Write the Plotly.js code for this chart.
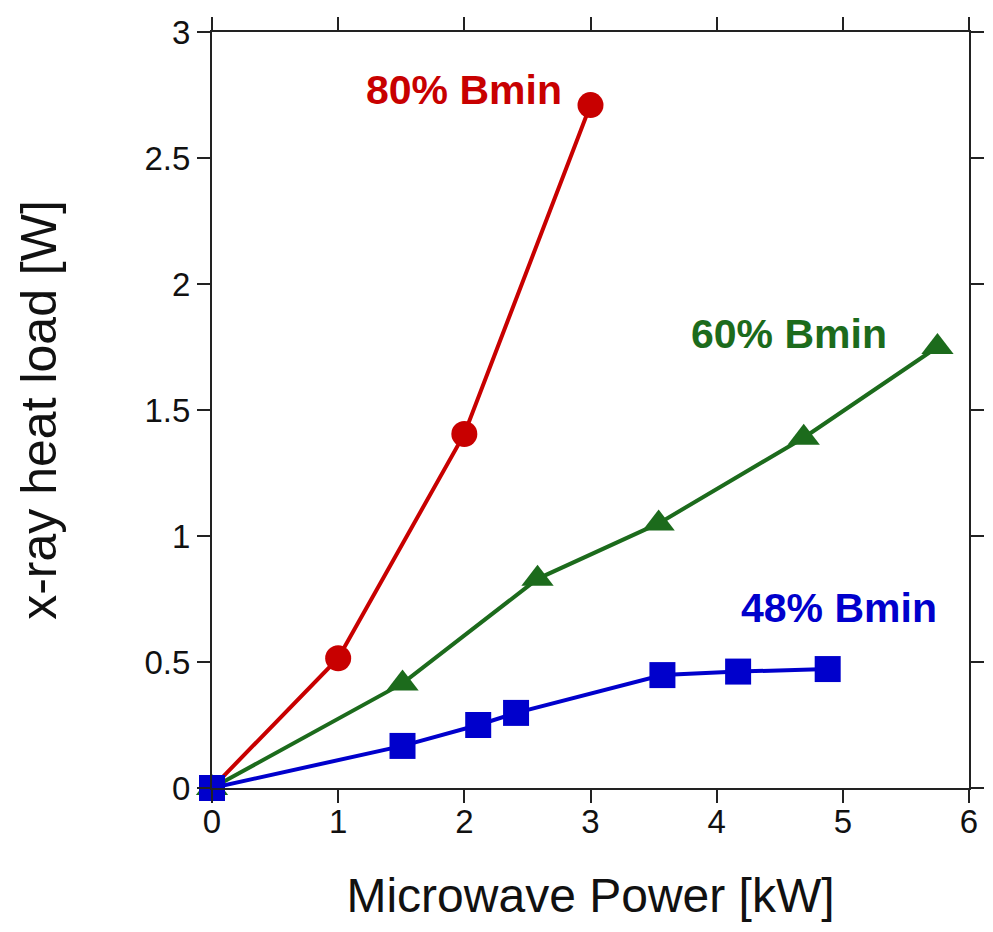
<!DOCTYPE html>
<html>
<head>
<meta charset="utf-8">
<script src="https://cdn.plot.ly/plotly-3.0.1.min.js"></script>
<style>html,body{margin:0;padding:0;background:#fff;}#chart{width:993px;height:932px;}</style>
</head>
<body>
<div id="chart"></div>
<script>
// Data
const redX = [0, 1, 2, 3];
const redY = [0, 0.515, 1.405, 2.71];
const greenX = [0, 1.51, 2.58, 3.54, 4.69, 5.75];
const greenY = [0, 0.415, 0.83, 1.05, 1.39, 1.75];
const blueX = [0, 1.51, 2.11, 2.41, 3.57, 4.17, 4.88];
const blueY = [0, 0.167, 0.25, 0.298, 0.448, 0.462, 0.472];
const labels = ["80% Bmin", "60% Bmin", "48% Bmin"];
const labelX = [2.0, 4.57, 4.97];
const labelY = [2.77, 1.80, 0.714];
const xTicks = [0, 1, 2, 3, 4, 5, 6];
const yTicks = [0, 0.5, 1, 1.5, 2, 2.5, 3];
const yTickText = ["0", "0.5", "1", "1.5", "2", "2.5", "3"];

const RED = "#c80000", GREEN = "#1c6b1c", BLUE = "#0000cc";
const FONT = "Arial, 'Liberation Sans', sans-serif";

const traces = [
  {x: redX, y: redY, mode: "lines+markers", cliponaxis: false,
   line: {color: RED, width: 4}, marker: {symbol: "circle", size: 26, color: RED}},
  {x: greenX, y: greenY, mode: "lines+markers", cliponaxis: false,
   line: {color: GREEN, width: 4}, marker: {symbol: "triangle-up", size: 28, color: GREEN}},
  {x: blueX, y: blueY, mode: "lines+markers", cliponaxis: false,
   line: {color: BLUE, width: 4}, marker: {symbol: "square", size: 26, color: BLUE}}
];

const colors = [RED, GREEN, BLUE];
const annotations = labels.map((t, i) => ({
  x: labelX[i], y: labelY[i], xref: "x", yref: "y", text: "<b>" + t + "</b>",
  showarrow: false, font: {family: FONT, size: 41, color: colors[i]}
}));

const axisCommon = {
  showline: true, linecolor: "#222", linewidth: 2, mirror: "ticks",
  ticks: "outside", ticklen: 13, tickwidth: 2, tickcolor: "#222",
  showgrid: false, zeroline: false,
  tickfont: {family: FONT, size: 33, color: "#111"}
};

const layout = {
  width: 993, height: 932,
  margin: {l: 212, r: 24, t: 32, b: 144},
  paper_bgcolor: "#fff", plot_bgcolor: "#fff",
  showlegend: false,
  xaxis: Object.assign({}, axisCommon, {
    range: [0, 6], tickvals: xTicks, ticklabelstandoff: -10,
    title: {text: "Microwave Power [kW]", font: {family: FONT, size: 48, color: "#111"}, standoff: 40}
  }),
  yaxis: Object.assign({}, axisCommon, {
    range: [0, 3], tickvals: yTicks, ticktext: yTickText,
    title: {text: "x-ray heat load [W]", font: {family: FONT, size: 50, color: "#111"}, standoff: 72}
  }),
  annotations: annotations
};

Plotly.newPlot("chart", traces, layout, {displayModeBar: false, staticPlot: true});
</script>
</body>
</html>
